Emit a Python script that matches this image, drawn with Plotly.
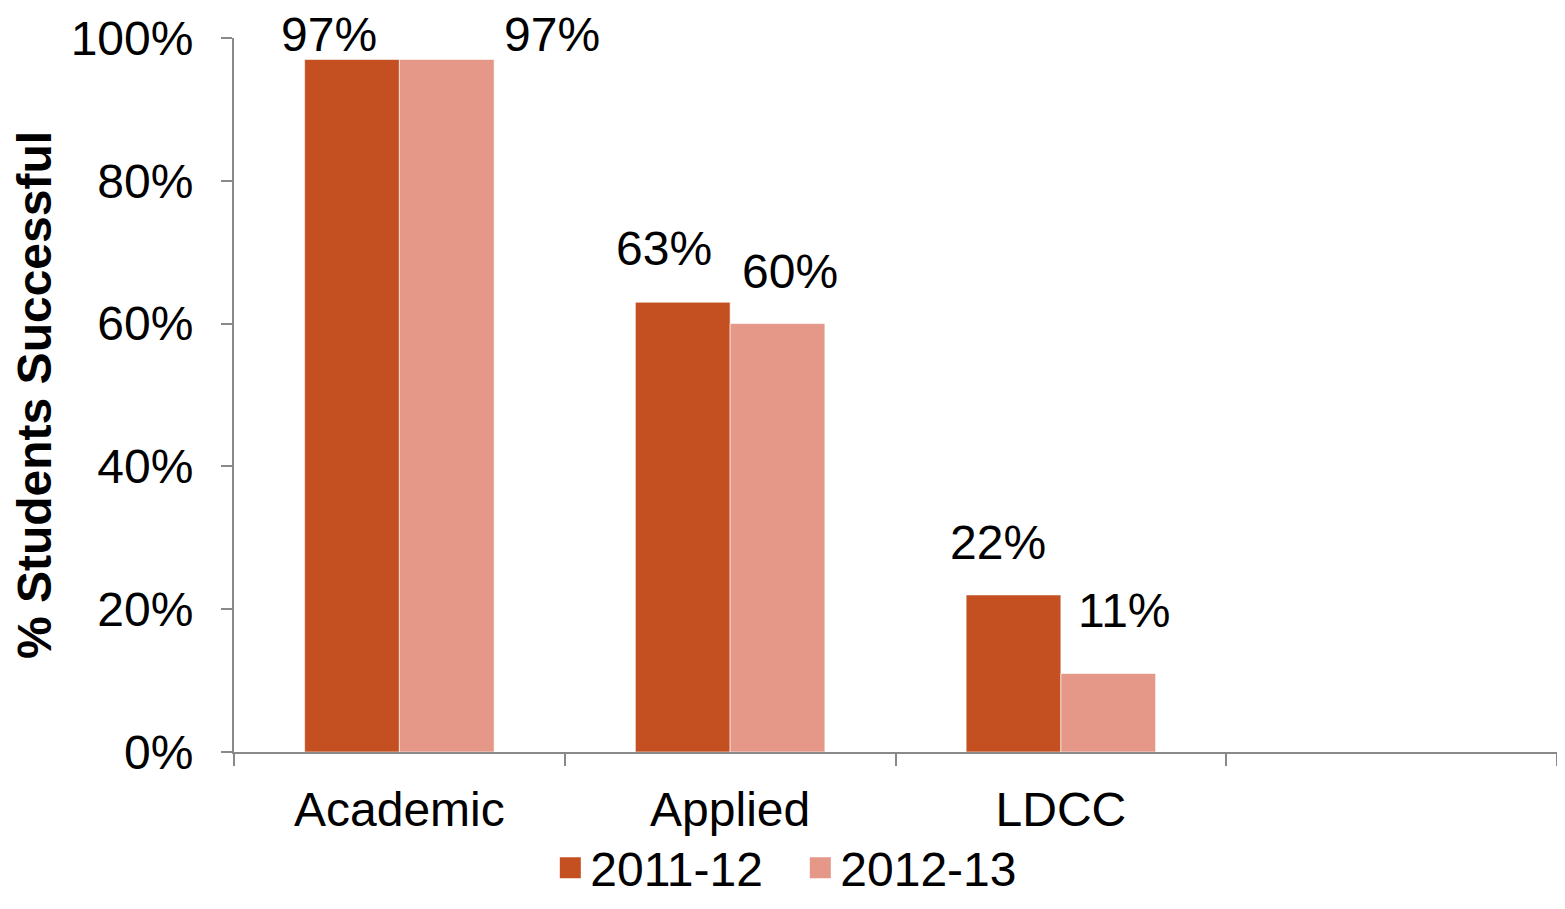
import plotly.graph_objects as go

categories = ["Academic", "Applied", "LDCC", " "]
series_names = ["2011-12", "2012-13"]
values_2011_12 = [0.97, 0.63, 0.22, None]
values_2012_13 = [0.97, 0.60, 0.11, None]
label_text_2011_12 = ["97%", "63%", "22%"]
label_text_2012_13 = ["97%", "60%", "11%"]

colors = ["#C45022", "#E59788"]
FONT = "Liberation Sans, Arial, sans-serif"
FS = 48

fig = go.Figure()
for name, vals, col in zip(series_names, [values_2011_12, values_2012_13], colors):
    fig.add_trace(go.Bar(
        x=categories, y=vals, name=name, showlegend=False,
        marker=dict(color=col, line=dict(color="rgba(255,255,255,0.6)", width=1)),
        hoverinfo="skip",
    ))
# legend entries with square swatches like the original
for name, col in zip(series_names, colors):
    fig.add_trace(go.Scatter(
        x=[None], y=[None], mode="markers", name=name,
        marker=dict(symbol="square", size=24, color=col, line=dict(color=col, width=5)),
        hoverinfo="skip",
    ))

# data labels (placed like the original, offset from each bar top)
label_dx = [[-70, -66, -63], [153, 60, 64]]
label_dy = [[25, 54, 52], [25, 52, 63]]
for si, (vals, texts) in enumerate([(values_2011_12, label_text_2011_12),
                                    (values_2012_13, label_text_2012_13)]):
    for ci, t in enumerate(texts):
        fig.add_annotation(
            x=categories[ci], y=vals[ci], xref="x", yref="y",
            text=t, showarrow=False,
            xanchor="center", yanchor="middle",
            xshift=label_dx[si][ci], yshift=label_dy[si][ci],
            font=dict(family=FONT, size=FS, color="#000000"),
        )

axis_col = "#898989"
fig.update_layout(
    width=1549, height=893,
    margin=dict(l=226, r=0, t=30, b=149, autoexpand=False),
    paper_bgcolor="white", plot_bgcolor="white",
    barmode="group", bargap=0.427, bargroupgap=0,
    font=dict(family=FONT, size=FS, color="#000000"),
    showlegend=True,
    legend=dict(
        orientation="h", xref="container", yref="container",
        x=0.5115, xanchor="center", y=0.037, yanchor="middle",
        bgcolor="rgba(0,0,0,0)",
        font=dict(family=FONT, size=FS, color="#000000"),
        traceorder="normal", entrywidth=205, entrywidthmode="pixels",
    ),
    xaxis=dict(
        type="category", categoryorder="array", categoryarray=categories,
        range=[-0.5, 3.5],
        showline=True, linecolor=axis_col, linewidth=2,
        ticks="outside", tickson="boundaries", ticklen=12, tickwidth=2, tickcolor=axis_col,
        showgrid=False, zeroline=False,
        tickfont=dict(family=FONT, size=FS, color="#000000"),
        ticklabelstandoff=14,
    ),
    yaxis=dict(
        range=[0, 1], dtick=0.2, tickformat=".0%",
        showline=True, linecolor=axis_col, linewidth=2,
        ticks="outside", ticklen=11, tickwidth=2, tickcolor=axis_col,
        showgrid=False, zeroline=False,
        tickfont=dict(family=FONT, size=FS, color="#000000"),
        ticklabelstandoff=18,
        title=dict(text="<b>% Students Successful</b>",
                   font=dict(family=FONT, size=FS, color="#000000"),
                   standoff=32),
    ),
)

fig.write_html("out.html")
